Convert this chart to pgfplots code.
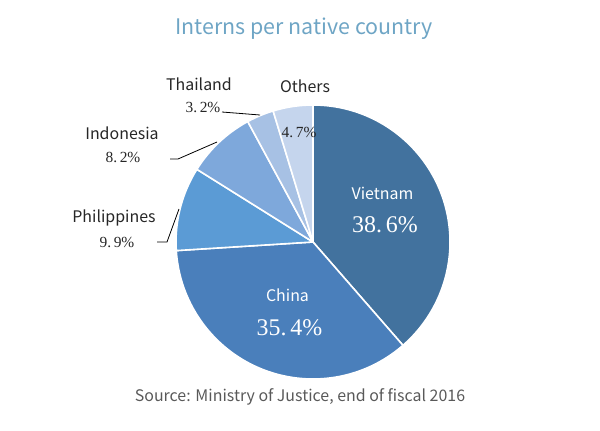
\documentclass[border=0pt]{standalone}
\usepackage{pgfplots}
\usepackage{pgfplotstable}
\pgfplotsset{compat=1.18}
\usepackage{fontspec}
\setmainfont{Noto Sans CJK JP}
\newfontfamily\pctfont{Liberation Serif}
\definecolor{slice0}{RGB}{66,114,158}
\definecolor{slice1}{RGB}{74,127,187}
\definecolor{slice2}{RGB}{91,155,213}
\definecolor{slice3}{RGB}{126,168,219}
\definecolor{slice4}{RGB}{167,193,228}
\definecolor{slice5}{RGB}{197,213,237}
\definecolor{titlecol}{RGB}{110,165,197}
\definecolor{srccol}{RGB}{89,89,89}
\definecolor{lblcol}{RGB}{38,38,38}
\pgfplotstableread{
label pct
Vietnam 38.6
China 35.4
Philippines 9.9
Indonesia 8.2
Thailand 3.2
Others 4.7
}\datatable
\begin{document}
\begin{tikzpicture}
\begin{axis}[
  width=600bp, height=430bp, scale only axis,
  xmin=0, xmax=600, ymin=0, ymax=430,
  axis lines=none, ticks=none, clip=false,
]
\path (axis cs:0,0) rectangle (axis cs:600,430);
\pgfplotsextra{%
  \gdef\startang{90}%
  \pgfplotstableforeachcolumnelement{pct}\of\datatable\as\p{%
    \pgfmathsetmacro\endang{\startang-3.6*\p}%
    \fill[fill=slice\pgfplotstablerow, draw=white, line width=1.6bp, line join=round]
      (axis cs:313,188) -- ++(\startang:137bp)
      arc[start angle=\startang, end angle=\endang, radius=137bp] -- cycle;
    \global\let\startang\endang
  }%
}
% title and source
\node[anchor=base, text=titlecol, font=\fontsize{21.5}{24}\selectfont] at (axis cs:304,395) {Interns per native country};
\node[anchor=base, text=srccol, font=\fontsize{16}{19}\selectfont] at (axis cs:300,29) {Source: Ministry of Justice, end of fiscal 2016};
% inside labels
\node[anchor=base, text=white, font=\fontsize{16}{19}\selectfont] at (axis cs:382.5,231) {Vietnam};
\node[anchor=base, text=white, font=\pctfont\fontsize{24}{27}\selectfont] at (axis cs:385,198) {38.\,6\%};
\node[anchor=base, text=white, font=\fontsize{16}{19}\selectfont] at (axis cs:287.5,129) {China};
\node[anchor=base, text=white, font=\pctfont\fontsize{24}{27}\selectfont] at (axis cs:289.5,95) {35.\,4\%};
\node[anchor=base, text=lblcol, font=\pctfont\fontsize{15.5}{18}\selectfont] at (axis cs:299,293) {4.\,7\%};
% outside labels
\node[anchor=base, text=lblcol, font=\fontsize{16}{19}\selectfont] at (axis cs:305,338) {Others};
\node[anchor=base, text=lblcol, font=\fontsize{16}{19}\selectfont] at (axis cs:199,340) {Thailand};
\node[anchor=base, text=lblcol, font=\pctfont\fontsize{15.5}{18}\selectfont] at (axis cs:203,318) {3.\,2\%};
\node[anchor=base, text=lblcol, font=\fontsize{16}{19}\selectfont] at (axis cs:122,291) {Indonesia};
\node[anchor=base, text=lblcol, font=\pctfont\fontsize{15.5}{18}\selectfont] at (axis cs:123,268) {8.\,2\%};
\node[anchor=base, text=lblcol, font=\fontsize{16}{19}\selectfont] at (axis cs:114,208) {Philippines};
\node[anchor=base, text=lblcol, font=\pctfont\fontsize{15.5}{18}\selectfont] at (axis cs:117,183) {9.\,9\%};
% leader lines
\draw[black, line width=0.8bp] (axis cs:222,318) -- (axis cs:260,315);
\draw[black, line width=0.8bp] (axis cs:170,271) -- (axis cs:178,271) -- (axis cs:217,288);
\draw[black, line width=0.8bp] (axis cs:157,188) -- (axis cs:167,188) -- (axis cs:179,221);
\end{axis}
\end{tikzpicture}
\end{document}
